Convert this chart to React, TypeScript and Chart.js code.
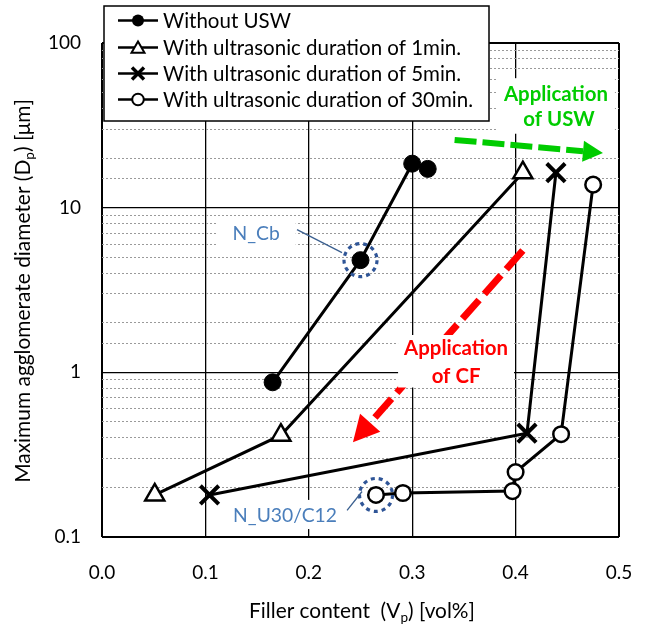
import React, { useEffect, useRef } from 'react';
import { Chart, registerables } from 'chart.js';

Chart.register(...registerables);

const FONT = 'Lato, "Liberation Sans", sans-serif';

// ---- data ----
const seriesNames = [
  'Without USW',
  'With ultrasonic duration of 1min.',
  'With ultrasonic duration of 5min.',
  'With ultrasonic duration of 30min.',
];
const withoutUswX = [0.165, 0.25, 0.3, 0.315];
const withoutUswY = [0.87, 4.8, 18.5, 17.2];
const min1X = [0.051, 0.173, 0.407];
const min1Y = [0.18, 0.415, 16.3];
const min5X = [0.104, 0.411, 0.439];
const min5Y = [0.18, 0.427, 16.3];
const min30X = [0.265, 0.291, 0.397, 0.4, 0.444, 0.475];
const min30Y = [0.18, 0.185, 0.19, 0.248, 0.421, 13.8];

const xTickLabels = ['0.0', '0.1', '0.2', '0.3', '0.4', '0.5'];
const yTickLabels = ['0.1', '1', '10', '100'];

// ---- annotations (data units) ----
const uswArrow = [[0.341, 25.8], [0.4845, 21.5]];
const cfArrow = [[0.407, 5.49], [0.2427, 0.376]];
const uswText = ['Application', 'of USW'];
const uswTextAt = [[0.439, 49.4], [0.442, 34.8]];
const cfText = ['Application', 'of CF'];
const cfTextAt = [[0.3424, 1.42], [0.3424, 0.96]];
const nCbLabel = 'N_Cb';
const nCbAt = [0.149, 7.08];
const nCbLeader = [[0.1886, 7.36], [0.2321, 5.33]];
const nU30Label = 'N_U30/C12';
const nU30At = [0.177, 0.137];
const nU30Leader = [[0.237, 0.145], [0.2515, 0.189]];

const toPts = (xs: number[], ys: number[]) => xs.map((x, i) => ({ x, y: ys[i] }));

type Part = { t: string; sub?: boolean };

function fitSize(ctx: CanvasRenderingContext2D, text: string, weight: string, target: number) {
  ctx.font = `${weight} 100px ${FONT}`;
  return (100 * target) / ctx.measureText(text).width;
}
function richWidth(ctx: CanvasRenderingContext2D, parts: Part[], size: number) {
  let w = 0;
  for (const p of parts) {
    ctx.font = `${p.sub ? size * 0.65 : size}px ${FONT}`;
    w += ctx.measureText(p.t).width;
  }
  return w;
}
function drawRich(ctx: CanvasRenderingContext2D, parts: Part[], size: number, cx: number, cy: number) {
  const w = richWidth(ctx, parts, size);
  let x = cx - w / 2;
  ctx.textAlign = 'left';
  ctx.textBaseline = 'middle';
  for (const p of parts) {
    const s = p.sub ? size * 0.65 : size;
    ctx.font = `${s}px ${FONT}`;
    ctx.fillText(p.t, x, cy + (p.sub ? size * 0.32 : 0));
    x += ctx.measureText(p.t).width;
  }
}

function dashedArrow(
  ctx: CanvasRenderingContext2D, x1: number, y1: number, x2: number, y2: number,
  color: string, width: number, headLen: number, headW: number, dash: number[]
) {
  const a = Math.atan2(y2 - y1, x2 - x1);
  const bx = x2 - Math.cos(a) * headLen;
  const by = y2 - Math.sin(a) * headLen;
  ctx.save();
  ctx.strokeStyle = color;
  ctx.lineWidth = width;
  ctx.setLineDash(dash);
  ctx.lineCap = 'butt';
  ctx.beginPath();
  ctx.moveTo(x1, y1);
  ctx.lineTo(bx, by);
  ctx.stroke();
  ctx.setLineDash([]);
  ctx.fillStyle = color;
  ctx.beginPath();
  ctx.moveTo(x2, y2);
  ctx.lineTo(bx + Math.sin(a) * headW / 2, by - Math.cos(a) * headW / 2);
  ctx.lineTo(bx - Math.sin(a) * headW / 2, by + Math.cos(a) * headW / 2);
  ctx.closePath();
  ctx.fill();
  ctx.restore();
}

function textBlock(
  ctx: CanvasRenderingContext2D, lines: string[], centers: number[][], size: number,
  weight: string, color: string, padX: number, padY: number
) {
  ctx.font = `${weight} ${size}px ${FONT}`;
  let l = Infinity, r = -Infinity, t = Infinity, b = -Infinity;
  lines.forEach((s, i) => {
    const w = ctx.measureText(s).width;
    l = Math.min(l, centers[i][0] - w / 2);
    r = Math.max(r, centers[i][0] + w / 2);
    t = Math.min(t, centers[i][1] - size * 0.6);
    b = Math.max(b, centers[i][1] + size * 0.6);
  });
  ctx.fillStyle = '#fff';
  ctx.fillRect(l - padX, t - padY, r - l + 2 * padX, b - t + 2 * padY);
  ctx.fillStyle = color;
  ctx.textAlign = 'center';
  ctx.textBaseline = 'middle';
  lines.forEach((s, i) => ctx.fillText(s, centers[i][0], centers[i][1] + 1));
}

function legendMarker(ctx: CanvasRenderingContext2D, kind: number, x: number, y: number) {
  ctx.save();
  ctx.strokeStyle = '#000';
  ctx.setLineDash([]);
  if (kind === 0) {
    ctx.fillStyle = '#000';
    ctx.beginPath();
    ctx.arc(x, y, 6, 0, Math.PI * 2);
    ctx.fill();
  } else if (kind === 1) {
    const r = 7.5;
    ctx.fillStyle = '#fff';
    ctx.lineWidth = 2;
    ctx.beginPath();
    for (let k = 0; k < 3; k++) {
      const a = (k * 2 * Math.PI) / 3;
      const px = x + Math.sin(a) * r;
      const py = y + 1.5 - Math.cos(a) * r;
      if (k === 0) ctx.moveTo(px, py); else ctx.lineTo(px, py);
    }
    ctx.closePath();
    ctx.fill();
    ctx.stroke();
  } else if (kind === 2) {
    ctx.lineWidth = 3.5;
    ctx.beginPath();
    ctx.moveTo(x - 6, y - 6);
    ctx.lineTo(x + 6, y + 6);
    ctx.moveTo(x + 6, y - 6);
    ctx.lineTo(x - 6, y + 6);
    ctx.stroke();
  } else {
    ctx.fillStyle = '#fff';
    ctx.lineWidth = 2;
    ctx.beginPath();
    ctx.arc(x, y, 5.8, 0, Math.PI * 2);
    ctx.fill();
    ctx.stroke();
  }
  ctx.restore();
}

const isDecade = (v: number) => {
  const l = Math.log10(v);
  return Math.abs(l - Math.round(l)) < 1e-6;
};

const annotationPlugin = {
  id: 'annotations',
  beforeDatasetsDraw(chart: any) {
    const ctx: CanvasRenderingContext2D = chart.ctx;
    const sx = chart.scales.x, sy = chart.scales.y;
    const P = (p: number[]) => [sx.getPixelForValue(p[0]), sy.getPixelForValue(p[1])];
    ctx.save();
    const g0 = P(uswArrow[0]), g1 = P(uswArrow[1]);
    dashedArrow(ctx, g0[0], g0[1], g1[0], g1[1], '#00CC00', 6, 20, 21, [22, 6]);
    const r0 = P(cfArrow[0]), r1 = P(cfArrow[1]);
    dashedArrow(ctx, r0[0], r0[1], r1[0], r1[1], '#FF0000', 7, 26, 27, [25, 8]);

    const boldSize = fitSize(ctx, 'Application', 'bold', 104);
    textBlock(ctx, uswText, uswTextAt.map(P), boldSize, 'bold', '#00CC00', 7, 3);
    textBlock(ctx, cfText, cfTextAt.map(P), boldSize, 'bold', '#FF0000', 6, 0);

    const blueSize = fitSize(ctx, nU30Label, 'normal', 104);
    textBlock(ctx, [nCbLabel], [P(nCbAt)], blueSize, 'normal', '#4A7EBB', 16, 4);
    textBlock(ctx, [nU30Label], [P(nU30At)], blueSize, 'normal', '#4A7EBB', 7, 3);
    ctx.restore();
  },
  afterDatasetsDraw(chart: any) {
    const ctx: CanvasRenderingContext2D = chart.ctx;
    const sx = chart.scales.x, sy = chart.scales.y;
    const P = (p: number[]) => [sx.getPixelForValue(p[0]), sy.getPixelForValue(p[1])];
    ctx.save();
    const circ = [P([withoutUswX[1], withoutUswY[1]]), P([min30X[0], min30Y[0]])];
    ctx.strokeStyle = '#2F5597';
    ctx.lineWidth = 3.2;
    ctx.setLineDash([4, 4]);
    circ.forEach(([cx, cy]) => {
      ctx.beginPath();
      ctx.arc(cx, cy, 16.5, 0, Math.PI * 2);
      ctx.stroke();
    });
    ctx.setLineDash([]);
    ctx.lineWidth = 1.3;
    ctx.strokeStyle = '#3A5F8F';
    [nCbLeader, nU30Leader].forEach((ln) => {
      const a = P(ln[0]), b = P(ln[1]);
      ctx.beginPath();
      ctx.moveTo(a[0], a[1]);
      ctx.lineTo(b[0], b[1]);
      ctx.stroke();
    });
    ctx.restore();
  },
  afterDraw(chart: any) {
    const ctx: CanvasRenderingContext2D = chart.ctx;
    ctx.save();
    ctx.fillStyle = '#000';
    const yParts: Part[] = [{ t: 'Maximum agglomerate diameter (D' }, { t: 'p', sub: true }, { t: ') [μm]' }];
    let ys = 18;
    ys = (ys * 384) / richWidth(ctx, yParts, ys);
    ctx.save();
    ctx.translate(23, 291);
    ctx.rotate(-Math.PI / 2);
    drawRich(ctx, yParts, ys, 0, 0);
    ctx.restore();
    const xParts: Part[] = [{ t: 'Filler content  (V' }, { t: 'p', sub: true }, { t: ') [vol%]' }];
    let xs = 18;
    xs = (xs * 226) / richWidth(ctx, xParts, xs);
    drawRich(ctx, xParts, xs, 362, 611);

    const L = 104, T = 6, R = 489, B = 121;
    ctx.fillStyle = '#fff';
    ctx.fillRect(L, T, R - L, B - T);
    ctx.strokeStyle = '#000';
    ctx.lineWidth = 1.5;
    ctx.strokeRect(L, T, R - L, B - T);
    const lsize = fitSize(ctx, seriesNames[3], 'normal', 310);
    const rowY = [20.5, 47.5, 73.5, 99.5];
    seriesNames.forEach((name, i) => {
      const y = rowY[i];
      ctx.strokeStyle = '#000';
      ctx.lineWidth = 2.6;
      ctx.beginPath();
      ctx.moveTo(118, y);
      ctx.lineTo(158, y);
      ctx.stroke();
      legendMarker(ctx, i, 138, y);
      ctx.fillStyle = '#000';
      ctx.font = `${lsize}px ${FONT}`;
      ctx.textAlign = 'left';
      ctx.textBaseline = 'middle';
      ctx.fillText(name, 163, y + 1);
    });
    ctx.restore();
  },
};

export default function App() {
  const ref = useRef<HTMLCanvasElement>(null);
  useEffect(() => {
    if (!ref.current) return;
    const chart = new Chart(ref.current, {
      type: 'scatter',
      data: {
        datasets: [
          {
            label: seriesNames[0],
            data: toPts(withoutUswX, withoutUswY),
            showLine: true,
            borderColor: '#000',
            borderWidth: 3,
            pointStyle: 'circle',
            pointRadius: 8.5,
            pointBackgroundColor: '#000',
            pointBorderColor: '#000',
            pointBorderWidth: 1,
          },
          {
            label: seriesNames[1],
            data: toPts(min1X, min1Y),
            showLine: true,
            borderColor: '#000',
            borderWidth: 3,
            pointStyle: 'triangle',
            pointRadius: 11,
            pointBackgroundColor: '#fff',
            pointBorderColor: '#000',
            pointBorderWidth: 2.5,
          },
          {
            label: seriesNames[2],
            data: toPts(min5X, min5Y),
            showLine: true,
            borderColor: '#000',
            borderWidth: 3,
            pointStyle: 'crossRot',
            pointRadius: 13,
            pointBackgroundColor: '#000',
            pointBorderColor: '#000',
            pointBorderWidth: 4,
          },
          {
            label: seriesNames[3],
            data: toPts(min30X, min30Y),
            showLine: true,
            borderColor: '#000',
            borderWidth: 3,
            pointStyle: 'circle',
            pointRadius: 7.8,
            pointBackgroundColor: '#fff',
            pointBorderColor: '#000',
            pointBorderWidth: 2.5,
          },
        ],
      },
      options: {
        responsive: false,
        animation: false,
        events: [],
        layout: { padding: { left: 0, top: 43, right: 26, bottom: 0 } },
        plugins: { legend: { display: false }, tooltip: { enabled: false }, title: { display: false } },
        scales: {
          x: {
            type: 'linear',
            min: 0,
            max: 0.5,
            afterFit: (s: any) => { s.height = 94; s.paddingLeft = 0; s.paddingRight = 0; },
            ticks: {
              stepSize: 0.1,
              padding: 24,
              color: '#000',
              font: { family: FONT, size: 19 },
              callback: (v: any) => xTickLabels[Math.round(Number(v) * 10)] ?? '',
            },
            grid: {
              drawTicks: false,
              color: '#000',
              lineWidth: (c: any) => (c.index === 0 || c.index === 5 ? 2 : 1.3),
            },
            border: { display: false },
          },
          y: {
            type: 'logarithmic',
            min: 0.1,
            max: 100,
            afterFit: (s: any) => { s.width = 102; },
            ticks: {
              autoSkip: false,
              padding: 21,
              color: '#000',
              font: { family: FONT, size: 19 },
              callback: (v: any) => {
                const n = Number(v);
                return isDecade(n) ? yTickLabels[Math.round(Math.log10(n)) + 1] ?? '' : '';
              },
            },
            grid: {
              drawTicks: false,
              color: (c: any) => (c.tick && isDecade(c.tick.value) ? '#000' : '#9a9a9a'),
              lineWidth: (c: any) => {
                if (!c.tick) return 1;
                if (isDecade(c.tick.value)) {
                  return c.tick.value === 0.1 || c.tick.value === 100 ? 2 : 1.3;
                }
                return 1;
              },
            },
            border: {
              display: false,
              dash: (c: any) => (c.tick && !isDecade(c.tick.value) ? [2, 2] : []),
            },
          },
        },
      },
      plugins: [annotationPlugin],
    } as any);
    return () => chart.destroy();
  }, []);
  return (
    <div style={{ position: 'fixed', left: 0, top: 0, width: 645, height: 631, background: '#fff' }}>
      <canvas ref={ref} width={645} height={631} style={{ display: 'block' }} />
    </div>
  );
}
